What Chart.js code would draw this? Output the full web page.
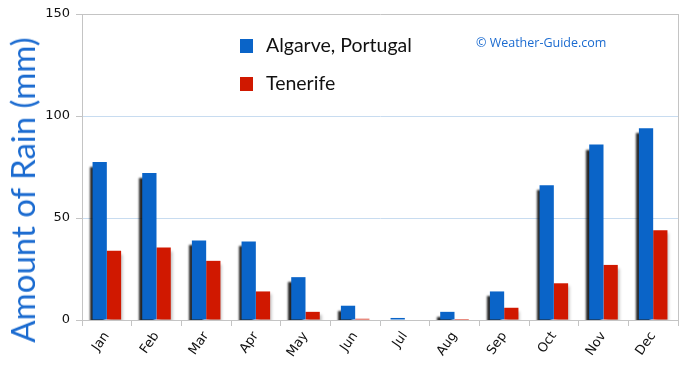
<!DOCTYPE html>
<html>
<head>
<meta charset="utf-8">
<script src="https://cdn.jsdelivr.net/npm/chart.js@4"></script>
<style>
  html, body { margin: 0; padding: 0; background: #fff; }
  #wrap { position: relative; width: 690px; height: 372px; }
  #yTitle {
    position: absolute; left: 22px; top: 190px; white-space: nowrap;
    transform: translate(-50%, -50%) rotate(-90deg);
    font: 33px Lato, sans-serif; color: #1b6bd0;
  }
  .leg { position: absolute; font: 19.5px Lato, sans-serif; color: #111; white-space: nowrap; }
  .leg span { display: inline-block; width: 13px; height: 14px; margin-right: 13px; vertical-align: -1px; }
  #mark { position: absolute; left: 476px; top: 34px; font: 12.5px "Open Sans", sans-serif; color: #1b6bd0; }
</style>
</head>
<body>
<div id="wrap">
  <canvas id="rainChart" width="690" height="372"></canvas>
  <div id="yTitle">Amount of Rain (mm)</div>
  <div class="leg" style="left:240px; top:33px"><span style="background:#0a64c8"></span>Algarve, Portugal</div>
  <div class="leg" style="left:240px; top:71px"><span style="background:#d01800"></span>Tenerife</div>
  <div id="mark">© Weather-Guide.com</div>
</div>
<script>
const months = ['Jan', 'Feb', 'Mar', 'Apr', 'May', 'Jun', 'Jul', 'Aug', 'Sep', 'Oct', 'Nov', 'Dec'];
const algarve = [77.5, 72, 39, 38.5, 21, 7, 1, 4, 14, 66, 86, 94];
const tenerife = [34, 35.5, 29, 14, 4, 0.6, 0, 0.5, 6, 18, 27, 44];
const yTicks = [0, 50, 100, 150];

// dark drop shadow to the left of blue bars, soft one right of red bars
const barShadow = {
  id: 'barShadow',
  beforeDatasetDraw(chart, args) {
    const ctx = chart.ctx;
    ctx.save();
    if (args.index === 0) {
      ctx.shadowColor = 'rgba(0,0,0,0.85)';
      ctx.shadowOffsetX = -3;
      ctx.shadowOffsetY = 5;
      ctx.shadowBlur = 2;
    } else {
      ctx.shadowColor = 'rgba(0,0,0,0.25)';
      ctx.shadowOffsetX = 2;
      ctx.shadowOffsetY = 3;
      ctx.shadowBlur = 3;
    }
  },
  afterDatasetDraw(chart) {
    chart.ctx.restore();
  }
};

const rightBorder = {
  id: 'rightBorder',
  afterDraw(chart) {
    const { ctx, chartArea: a } = chart;
    ctx.save();
    ctx.strokeStyle = '#c4c4c4';
    ctx.lineWidth = 1;
    ctx.beginPath();
    ctx.moveTo(a.right + 0.5, a.top);
    ctx.lineTo(a.right + 0.5, a.bottom);
    ctx.stroke();
    ctx.restore();
  }
};

new Chart(document.getElementById('rainChart').getContext('2d'), {
  type: 'bar',
  data: {
    labels: months,
    datasets: [
      { label: 'Algarve, Portugal', data: algarve, backgroundColor: '#0a64c8' },
      { label: 'Tenerife', data: tenerife, backgroundColor: '#d01800' }
    ]
  },
  options: {
    responsive: false,
    animation: false,
    layout: { padding: { top: 14, right: 12, left: 0, bottom: 0 } },
    categoryPercentage: 0.575,
    barPercentage: 1,
    plugins: { legend: { display: false }, tooltip: { enabled: false } },
    scales: {
      x: {
        afterFit: s => { s.height = 52; },
        grid: { offset: true, drawOnChartArea: false, tickLength: 6, color: '#c4c4c4' },
        border: { color: '#c4c4c4' },
        ticks: {
          color: '#111', font: { family: 'DejaVu Sans', size: 13 },
          maxRotation: 55, minRotation: 55, padding: 3
        }
      },
      y: {
        min: 0, max: 150,
        afterFit: s => { s.width = 82; },
        afterBuildTicks: s => { s.ticks = yTicks.map(v => ({ value: v })); },
        grid: {
          tickLength: 6,
          color: c => (c.tick.value === 150 ? '#c4c4c4' : '#c8dcf0'),
          tickColor: '#c4c4c4'
        },
        border: { color: '#c4c4c4' },
        ticks: { color: '#111', font: { family: 'DejaVu Sans', size: 13 }, padding: 6 }
      }
    }
  },
  plugins: [barShadow, rightBorder]
});
</script>
</body>
</html>
